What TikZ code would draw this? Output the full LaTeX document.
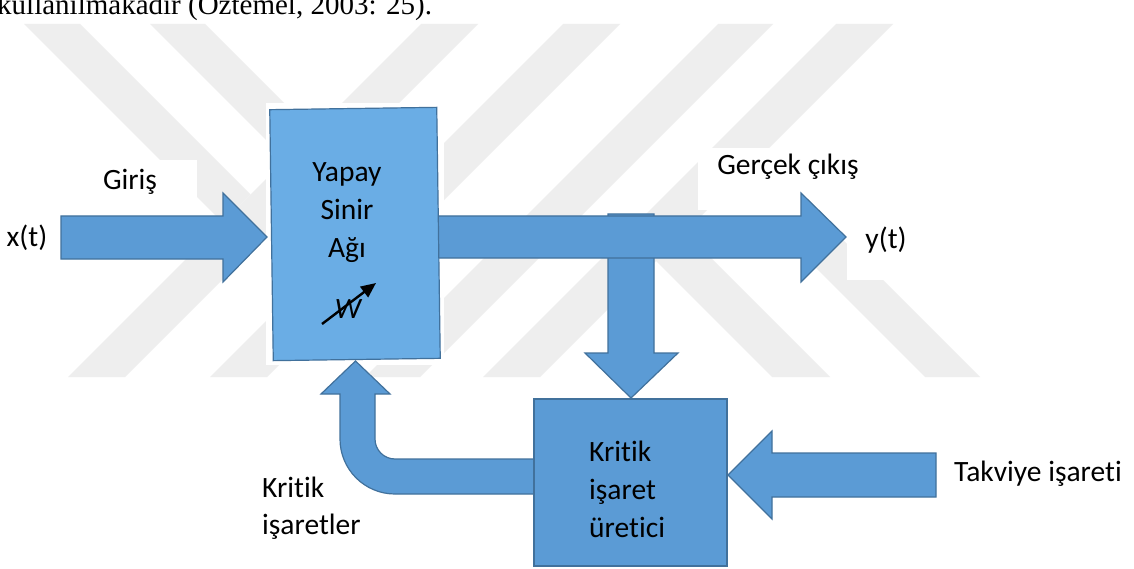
\documentclass[tikz,border=0pt]{standalone}
\usepackage{fontspec}
\setmainfont{Carlito}[Ligatures=NoCommon]
\newfontfamily\tnr{Liberation Serif}
\usetikzlibrary{arrows.meta}
\definecolor{blk}{RGB}{91,155,213}
\definecolor{blkline}{RGB}{65,113,156}
\definecolor{nnfill}{RGB}{106,173,229}
\definecolor{wm}{RGB}{238,238,238}
\begin{document}
\begin{tikzpicture}[x=1pt,y=-1pt,
  blockarrow/.style={fill=blk, draw=blkline, line width=1.2pt, line join=miter},
  boxshape/.style={draw=blkline, line width=1.2pt, inner sep=0pt},
  lbl/.style={inner sep=0pt, text=black, font=\fontsize{29.5}{36}\selectfont},
  wmstripe/.style={fill=wm, draw=none},
  whitebg/.style={fill=white, draw=none}]
\fill[white] (0,0) rectangle (1134,569);
\useasboundingbox (0,0) rectangle (1134,569);
% watermark
\begin{scope}
\clip (0,24) rectangle (1134,377);
\fill[wmstripe] (68,377) -- (125,377) -- (478,24) -- (421,24) -- cycle;
\fill[wmstripe] (210,377) -- (267,377) -- (620,24) -- (563,24) -- cycle;
\fill[wmstripe] (365,377) -- (420,377) -- (773,24) -- (718,24) -- cycle;
\fill[wmstripe] (483,377) -- (540,377) -- (893,24) -- (836,24) -- cycle;
\fill[wmstripe] (24,24) -- (80,24) -- (250.5,194.5) -- (222.5,222.5) -- cycle;
\fill[wmstripe] (150,24) -- (205,24) -- (384,203) -- (356.5,230.5) -- cycle;
\fill[wmstripe] (772,377) -- (830,377) -- (690,237) -- (632,237) -- cycle;
\fill[wmstripe] (925,377) -- (980,377) -- (840,237) -- (785,237) -- cycle;
\end{scope}
% white label backgrounds
\fill[whitebg] (100,160) rectangle (197,213);
\fill[whitebg] (698,148) rectangle (875,210);
\fill[whitebg] (847,213) rectangle (935,280);
\fill[whitebg] (266,103) rectangle (444,365);
% top text (cut off at the top edge, as in the original)
\node[lbl, font=\tnr\fontsize{29}{34}\selectfont, anchor=base west] (toptext) at (-3,15) {kullanılmakadır (Öztemel, 2003: 25).};
% down arrow (drawn below the output arrow)
\draw[blockarrow] (608,214) -- (654,214) -- (654,353) -- (678,353) -- (631,398) -- (585,353) -- (608,353) -- cycle;
% output arrow
\draw[blockarrow] (438,216) -- (801,216) -- (801,193) -- (846,237) -- (801,282) -- (801,258) -- (438,258) -- cycle;
% input arrow
\draw[blockarrow] (61,216) -- (223,216) -- (223,193) -- (267,237) -- (223,282) -- (223,259) -- (61,259) -- cycle;
% neural network box
\node[boxshape, fill=nnfill, rotate=0.8, minimum width=167pt, minimum height=251pt] (nn) at (355,234) {};
\node[lbl, anchor=base] (nn1) at (347,182) {Yapay};
\node[lbl, anchor=base] (nn2) at (347,220) {Sinir};
\node[lbl, anchor=base] (nn3) at (347,258) {Ağı};
\node[lbl, anchor=base] (wlbl) at (348,318) {\itshape W};
\coordinate (wa) at (322,324);
\coordinate (wb) at (376,283);
\draw[line width=2.4pt, -{Triangle[length=15pt,width=13pt]}] (wa) -- (wb);
% feedback U arrow
\draw[blockarrow] (534,459) -- (395,459) .. controls (383.95,459) and (375,450.05) .. (375,439) -- (375,394) -- (390,394) -- (355.5,361) -- (321,394) -- (340,394) -- (340,439) .. controls (340,469.4) and (364.6,494) .. (395,494) -- (534,494) -- cycle;
% reinforcement arrow
\draw[blockarrow] (936,453) -- (772,453) -- (772,431) -- (728,475) -- (772,519) -- (772,497) -- (936,497) -- cycle;
% critic box
\node[boxshape, fill=blk, minimum width=193pt, minimum height=167pt] (kr) at (630.5,482.5) {};
\node[lbl, anchor=base west] (kr1) at (589,461) {Kritik};
\node[lbl, anchor=base west] (kr2) at (589,499) {işaret};
\node[lbl, anchor=base west] (kr3) at (589,537.5) {üretici};
% labels
\node[lbl, anchor=base] (xt) at (27,247) {x(t)};
\node[lbl, anchor=base] (giris) at (130,190) {Giriş};
\node[lbl, anchor=base] (gercek) at (788,175) {Gerçek çıkış};
\node[lbl, anchor=base] (yt) at (886,248) {y(t)};
\node[lbl, anchor=base west] (ki1) at (262,497) {Kritik};
\node[lbl, anchor=base west] (ki2) at (262,534) {işaretler};
\node[lbl, anchor=base west] (tak) at (954,481) {Takviye işareti};
\end{tikzpicture}
\end{document}
